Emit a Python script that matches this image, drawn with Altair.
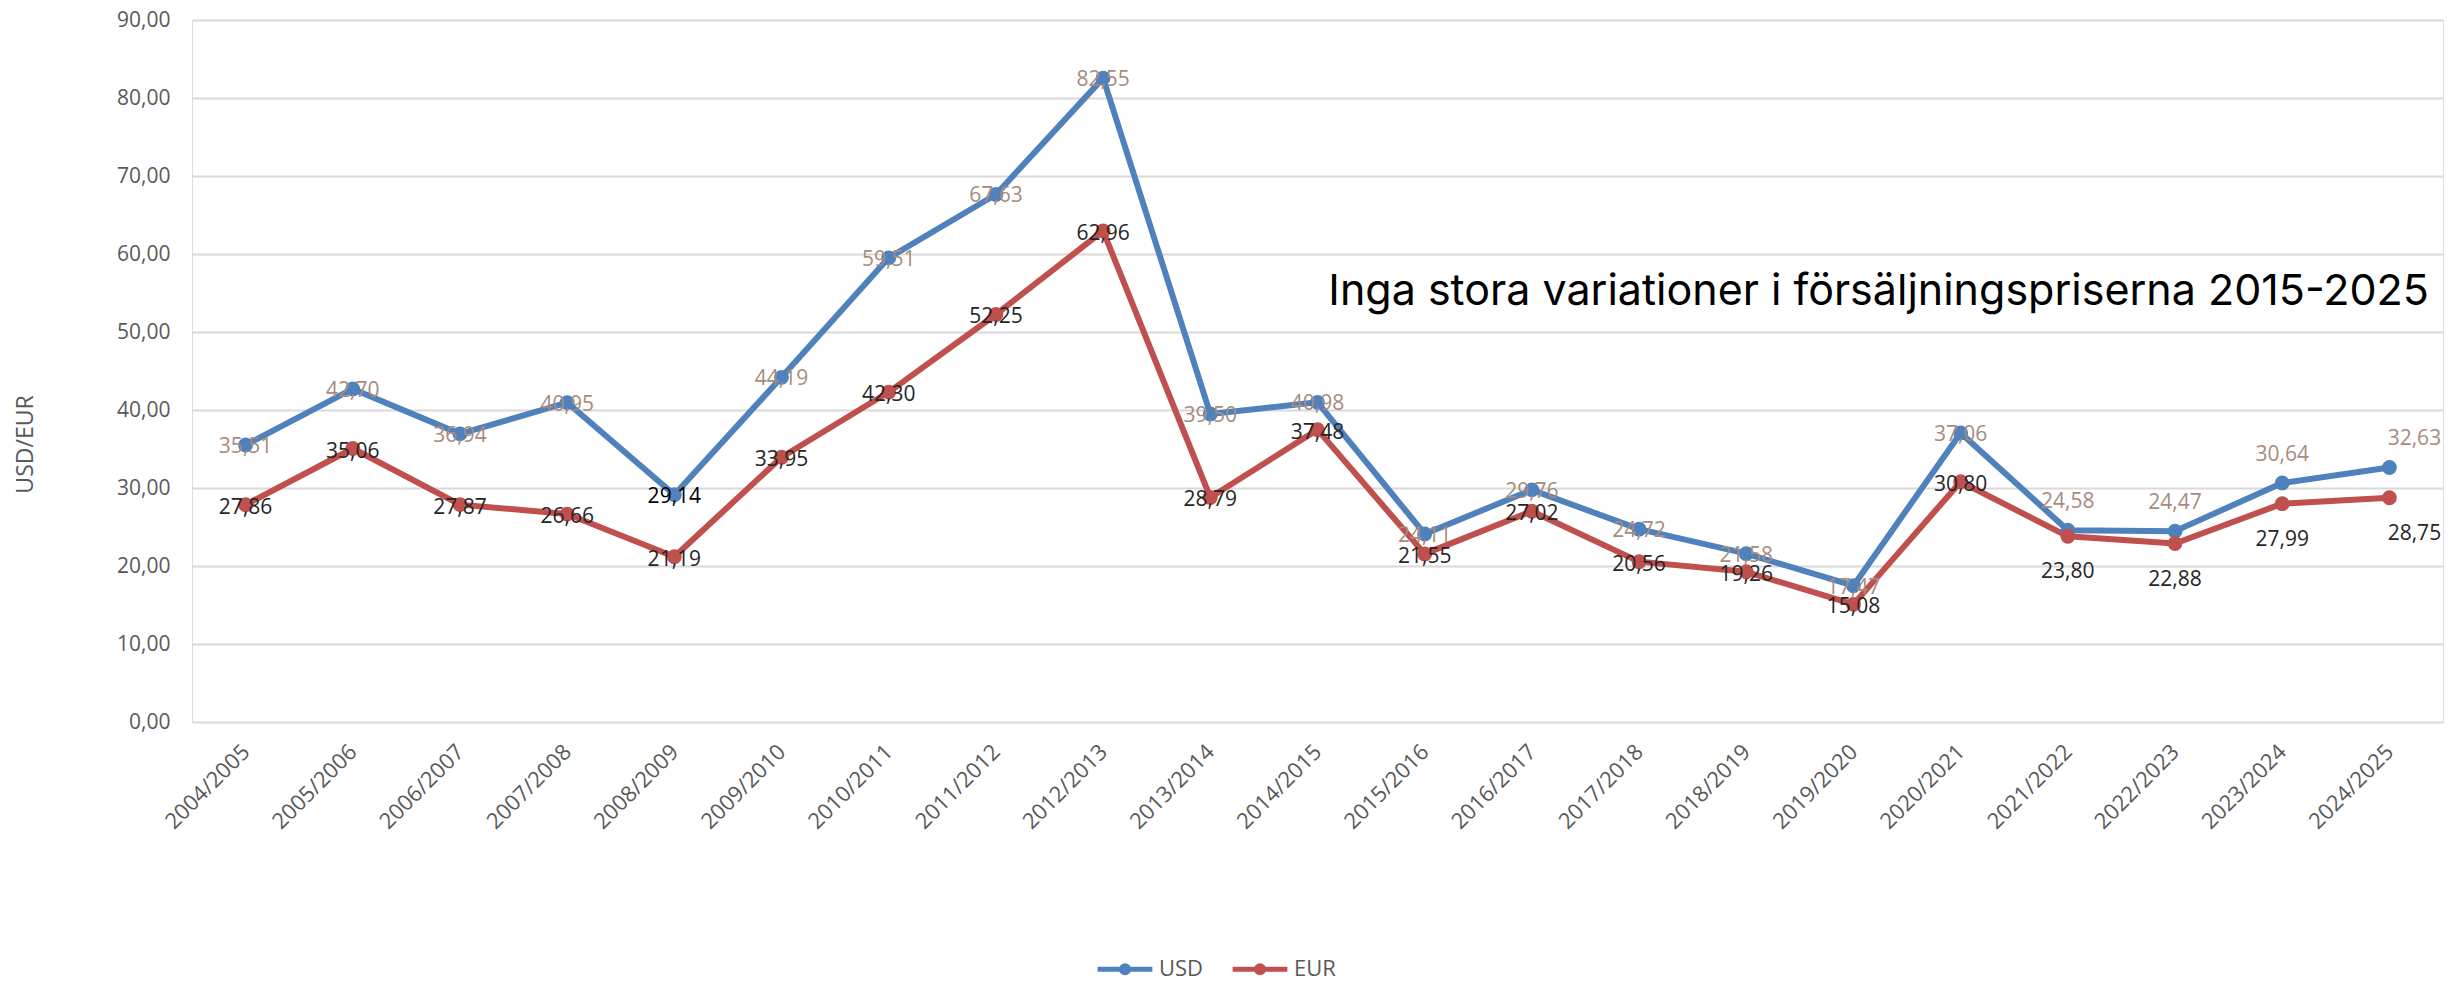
import altair as alt
import pandas as pd

seasons = ["2004/2005", "2005/2006", "2006/2007", "2007/2008", "2008/2009",
           "2009/2010", "2010/2011", "2011/2012", "2012/2013", "2013/2014",
           "2014/2015", "2015/2016", "2016/2017", "2017/2018", "2018/2019",
           "2019/2020", "2020/2021", "2021/2022", "2022/2023", "2023/2024",
           "2024/2025"]
usd = [35.51, 42.70, 36.94, 40.95, 29.14, 44.19, 59.51, 67.63, 82.55, 39.50,
       40.98, 24.11, 29.76, 24.72, 21.58, 17.47, 37.06, 24.58, 24.47, 30.64, 32.63]
eur = [27.86, 35.06, 27.87, 26.66, 21.19, 33.95, 42.30, 52.25, 62.96, 28.79,
       37.48, 21.55, 27.02, 20.56, 19.26, 15.08, 30.80, 23.80, 22.88, 27.99, 28.75]
series_names = ["USD", "EUR"]
series_colors = ["#4F81BD", "#C0504D"]
title_text = "Inga stora variationer i försäljningspriserna 2015-2025"
y_title = "USD/EUR"

rows = []
for i, s in enumerate(seasons):
    rows.append({"season": s, "idx": i, "series": "USD", "value": usd[i]})
    rows.append({"season": s, "idx": i, "series": "EUR", "value": eur[i]})
df = pd.DataFrame(rows)

FONT = "Open Sans"
GREY = "#595959"

x_enc = alt.X(
    "season:N", sort=seasons,
    scale=alt.Scale(type="point", padding=0.5),
    axis=alt.Axis(title=None, labelAngle=-45, labelAlign="right", labelBaseline="middle",
                  labelFont=FONT, labelFontSize=22, labelColor=GREY, labelPadding=26,
                  ticks=False, domain=False, grid=False, labelOverlap=False),
)
y_enc = alt.Y(
    "value:Q",
    scale=alt.Scale(domain=[0, 90], nice=False),
    axis=alt.Axis(title=y_title, values=list(range(0, 91, 10)),
                  labelExpr="replace(format(datum.value, '.2f'), '.', ',')",
                  labelFont=FONT, labelFontSize=21, labelColor=GREY, labelPadding=22,
                  ticks=False, domain=False, gridColor="#D9D9D9", gridWidth=2,
                  titleFont=FONT, titleFontSize=23, titleColor=GREY, titleFontWeight="normal",
                  titleAngle=270, titleX=-167, titleY=424, titleAlign="center",
                  titleBaseline="middle"),
)
legend_symbol = ("M -1 0 L 1 0 "
                 "M -0.13 0 A 0.13 0.13 0 1 0 0.13 0 A 0.13 0.13 0 1 0 -0.13 0 "
                 "M -0.05 0 A 0.05 0.05 0 1 0 0.05 0 A 0.05 0.05 0 1 0 -0.05 0")
color_enc = alt.Color(
    "series:N",
    scale=alt.Scale(domain=series_names, range=series_colors),
    legend=alt.Legend(
        title=None, orient="none", legendX=903, legendY=919, direction="horizontal",
        symbolType=legend_symbol, symbolSize=3000, symbolStrokeWidth=5,
        labelFont=FONT, labelFontSize=22, labelColor=GREY, labelOffset=4,
        columnPadding=18,
    ),
)

base = alt.Chart(df).encode(x=x_enc, y=y_enc)

lines = base.mark_line(strokeWidth=6, strokeJoin="round", strokeCap="round").encode(
    color=color_enc, detail="series:N")
points = base.mark_circle(size=220, opacity=1).encode(
    fill=alt.Fill("series:N", scale=alt.Scale(domain=series_names, range=series_colors), legend=None))

fmt = "replace(format(datum.value, '.2f'), '.', ',')"
USD_LAB = "#A88B7C"
EUR_LAB = "#262626"

usd_mid = base.transform_filter("datum.series == 'USD' && datum.idx <= 16").transform_calculate(
    lab=fmt).mark_text(font=FONT, fontSize=21, baseline="middle", dy=2).encode(
    text="lab:N",
    color=alt.condition("datum.idx == 4", alt.value("#000000"), alt.value(USD_LAB)))
usd_up = base.transform_filter("datum.series == 'USD' && datum.idx >= 17 && datum.idx <= 19").transform_calculate(
    lab=fmt).mark_text(font=FONT, fontSize=21, baseline="middle", dy=-28, color=USD_LAB).encode(text="lab:N")
usd_last = base.transform_filter("datum.series == 'USD' && datum.idx == 20").transform_calculate(
    lab=fmt).mark_text(font=FONT, fontSize=21, baseline="middle", dy=-28, dx=25, color=USD_LAB).encode(text="lab:N")

eur_mid = base.transform_filter("datum.series == 'EUR' && datum.idx <= 16").transform_calculate(
    lab=fmt).mark_text(font=FONT, fontSize=21, baseline="middle", dy=3, color=EUR_LAB).encode(text="lab:N")
eur_down = base.transform_filter("datum.series == 'EUR' && datum.idx >= 17 && datum.idx <= 19").transform_calculate(
    lab=fmt).mark_text(font=FONT, fontSize=21, baseline="middle", dy=36, color=EUR_LAB).encode(text="lab:N")
eur_last = base.transform_filter("datum.series == 'EUR' && datum.idx == 20").transform_calculate(
    lab=fmt).mark_text(font=FONT, fontSize=21, baseline="middle", dy=36, dx=25, color=EUR_LAB).encode(text="lab:N")

chart = alt.layer(lines, points, usd_mid, usd_up, usd_last, eur_mid, eur_down, eur_last).properties(
    width=2251, height=702,
    title=alt.TitleParams(text=title_text, orient="top", anchor="end", frame="group",
                          font="Inter", fontSize=43, fontWeight="normal", color="#000000",
                          baseline="alphabetic", offset=0, dx=-14, dy=339),
    autosize=alt.AutoSizeParams(type="none"),
    padding={"left": 184, "top": 12, "right": 12, "bottom": 261},
).configure_view(stroke=None).configure(background="#FFFFFF")

chart.save("out.html", embed_options={"renderer": "svg", "actions": False})
